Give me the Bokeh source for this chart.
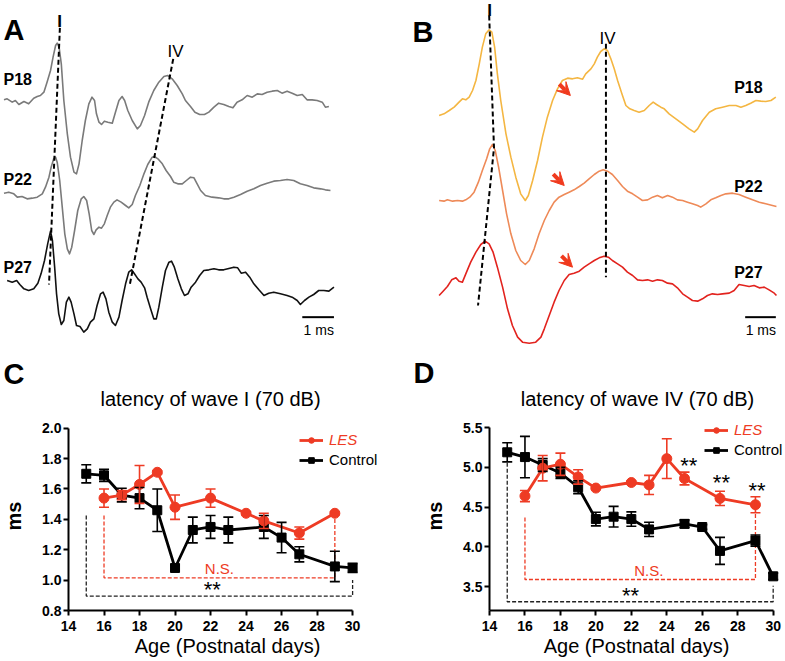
import numpy as np
from bokeh.plotting import figure
from bokeh.layouts import column, row
from bokeh.models import (ColumnDataSource, Whisker, TeeHead, Legend, LegendItem,
                          FixedTicker, PrintfTickFormatter, Arrow, VeeHead)
from bokeh.core.properties import value
from bokeh.embed import file_html
from bokeh.resources import INLINE

FONT = "Liberation Sans"

# ---------------- Panel A: ABR traces, control (time ms, amplitude a.u.) ----------------
a18_t = [0.11,0.21,0.37,0.47,0.58,0.74,0.89,1.05,1.16,1.26,1.37,1.47,1.58,1.66,1.74,1.79,1.85,1.92,2.00,2.11,2.21,2.32,2.40,2.48,2.58,2.68,2.79,2.89,2.97,3.03,3.11,3.19,3.28,3.39,3.53,3.63,3.74,3.84,3.92,4.02,4.16,4.32,4.42,4.55,4.68,4.84,5.00,5.16,5.28,5.42,5.58,5.74,5.84,6.00,6.14,6.29,6.44,6.58,6.74,6.89,7.05,7.21,7.34,7.47,7.63,7.79,7.95,8.11,8.26,8.42,8.58,8.74,8.89,9.05,9.21,9.37,9.53,9.68,9.84,10.00,10.16,10.26,10.37]
a18_v = [0.02,0.05,-0.05,0.00,-0.12,-0.03,-0.10,0.07,0.12,0.15,0.25,0.55,0.90,1.30,1.65,1.72,1.60,1.10,0.00,-1.00,-1.70,-2.15,-2.20,-1.90,-1.20,-0.60,-0.10,0.10,0.00,-0.40,-0.65,-0.72,-0.62,-0.65,-0.68,-0.35,0.00,0.12,0.00,-0.30,-0.60,-0.85,-0.75,-0.45,-0.05,0.30,0.55,0.72,0.75,0.65,0.45,0.20,0.00,-0.18,-0.35,-0.42,-0.42,-0.35,-0.20,-0.08,-0.12,-0.18,-0.22,-0.05,0.02,0.15,0.10,0.20,0.18,0.25,0.28,0.30,0.22,0.28,0.22,0.15,0.18,0.02,0.02,0.00,-0.05,-0.20,-0.18]
a22_t = [0.11,0.26,0.42,0.53,0.68,0.84,1.00,1.16,1.32,1.42,1.53,1.60,1.68,1.74,1.79,1.87,1.95,2.03,2.11,2.18,2.25,2.34,2.44,2.55,2.63,2.72,2.80,2.88,2.95,3.02,3.11,3.19,3.28,3.37,3.47,3.58,3.68,3.81,3.95,4.05,4.16,4.26,4.40,4.53,4.65,4.79,4.86,4.97,5.11,5.23,5.37,5.47,5.60,5.74,5.87,6.00,6.11,6.21,6.32,6.47,6.68,6.89,7.05,7.21,7.37,7.58,7.79,8.00,8.21,8.42,8.63,8.84,9.05,9.26,9.47,9.68,9.89,10.11,10.26,10.42]
a22_v = [0.07,0.10,0.05,-0.05,-0.03,-0.10,-0.08,-0.05,0.05,0.25,0.55,0.85,1.10,1.15,1.00,0.45,-0.35,-1.15,-1.60,-1.75,-1.55,-1.05,-0.45,-0.10,-0.03,-0.15,-0.55,-1.05,-1.17,-1.03,-0.95,-0.98,-0.85,-0.60,-0.35,-0.20,-0.13,-0.20,-0.30,-0.37,-0.27,0.00,0.30,0.65,0.93,1.15,1.17,1.10,0.95,0.75,0.57,0.40,0.35,0.35,0.45,0.55,0.53,0.35,0.15,0.00,-0.05,-0.07,-0.10,-0.10,-0.05,0.03,0.13,0.20,0.30,0.37,0.43,0.45,0.48,0.45,0.35,0.30,0.23,0.20,0.17,0.15]
a27_t = [0.21,0.37,0.51,0.61,0.74,0.89,1.05,1.18,1.28,1.39,1.49,1.58,1.64,1.71,1.77,1.84,1.92,2.00,2.08,2.16,2.23,2.32,2.40,2.51,2.63,2.74,2.84,2.95,3.05,3.16,3.24,3.33,3.42,3.53,3.63,3.74,3.84,3.95,4.05,4.14,4.23,4.34,4.44,4.55,4.63,4.74,4.84,4.92,5.00,5.11,5.21,5.32,5.40,5.49,5.60,5.71,5.81,5.92,6.02,6.16,6.29,6.42,6.58,6.74,6.89,7.05,7.21,7.37,7.49,7.60,7.74,7.87,8.00,8.16,8.32,8.47,8.63,8.84,9.05,9.21,9.37,9.47,9.60,9.74,9.89,10.05,10.21,10.37,10.53]
a27_v = [0.00,-0.05,0.00,-0.12,-0.25,-0.30,-0.25,-0.08,0.20,0.60,1.10,1.48,1.20,0.40,-0.40,-1.00,-1.32,-1.20,-0.65,-0.50,-0.65,-1.00,-1.35,-1.38,-1.55,-1.45,-1.25,-1.15,-0.75,-0.40,-0.35,-0.55,-0.95,-1.25,-1.35,-1.10,-0.60,-0.10,0.25,0.32,0.20,0.05,-0.05,-0.22,-0.50,-0.85,-1.15,-1.15,-0.80,-0.20,0.30,0.55,0.58,0.40,0.05,-0.25,-0.45,-0.40,-0.20,-0.05,0.15,0.30,0.32,0.35,0.32,0.32,0.36,0.40,0.38,0.22,0.25,0.10,-0.10,-0.28,-0.45,-0.38,-0.35,-0.40,-0.45,-0.50,-0.60,-0.72,-0.60,-0.50,-0.42,-0.30,-0.30,-0.32,-0.20]
offsets_A = [-3.00, -5.85, -8.40]
ages_A = ["P18", "P22", "P27"]
waveI_lat_A = [1.85, 1.70, 1.60]
waveIV_lat_A = [5.35, 4.85, 4.17]

# ---------------- Panel B: ABR traces, LES ----------------
b18_t = [1.52,1.68,1.85,2.01,2.17,2.28,2.39,2.50,2.61,2.72,2.83,2.93,3.04,3.15,3.24,3.33,3.42,3.53,3.70,3.86,4.02,4.18,4.33,4.43,4.57,4.73,4.89,5.05,5.22,5.38,5.54,5.71,5.87,6.03,6.20,6.30,6.47,6.58,6.68,6.79,6.90,7.01,7.12,7.23,7.34,7.48,7.61,7.74,7.88,8.04,8.21,8.37,8.50,8.61,8.75,8.86,9.02,9.24,9.46,9.67,9.84,9.95,10.11,10.33,10.54,10.76,10.98,11.20,11.36,11.52,11.68,11.85,12.01,12.17,12.34,12.50]
b18_v = [0.00,0.05,0.15,0.25,0.40,0.50,0.47,0.55,0.75,1.05,1.55,2.05,2.45,2.57,2.50,2.05,1.25,0.45,-0.55,-1.25,-1.85,-2.35,-2.55,-2.40,-1.95,-1.35,-0.65,-0.05,0.45,0.80,1.05,1.12,1.10,1.13,1.09,1.25,1.40,1.55,1.75,1.92,2.00,1.95,1.70,1.40,1.05,0.65,0.30,0.20,0.15,0.10,0.15,0.30,0.40,0.33,0.25,0.20,0.05,-0.10,-0.25,-0.40,-0.50,-0.40,-0.15,0.10,0.20,0.25,0.30,0.30,0.25,0.30,0.37,0.45,0.43,0.42,0.45,0.55]
b22_t = [1.52,1.68,1.79,1.96,2.12,2.28,2.39,2.52,2.66,2.80,2.93,3.07,3.17,3.26,3.35,3.46,3.59,3.72,3.86,4.02,4.18,4.33,4.46,4.62,4.78,4.95,5.11,5.27,5.43,5.60,5.76,5.92,6.09,6.25,6.41,6.58,6.74,6.87,7.01,7.17,7.34,7.50,7.66,7.83,7.99,8.15,8.32,8.48,8.64,8.80,8.97,9.13,9.29,9.46,9.62,9.78,9.95,10.05,10.22,10.38,10.54,10.71,10.87,11.09,11.30,11.52,11.74,11.96,12.17,12.39,12.52]
b22_v = [0.00,-0.02,0.02,-0.02,0.00,-0.02,0.02,0.10,0.25,0.55,0.90,1.25,1.55,1.68,1.50,1.00,0.30,-0.40,-1.00,-1.50,-1.80,-1.92,-1.80,-1.45,-1.00,-0.60,-0.30,-0.05,0.10,0.18,0.25,0.32,0.42,0.52,0.65,0.78,0.88,0.92,0.88,0.78,0.60,0.42,0.28,0.20,0.10,0.00,0.02,0.10,0.15,0.08,0.15,0.10,0.02,0.00,-0.05,-0.10,-0.15,-0.20,-0.10,0.02,0.08,0.15,0.20,0.22,0.18,0.10,0.02,-0.05,-0.10,-0.15,-0.18]
b27_t = [1.52,1.65,1.79,1.93,2.07,2.17,2.28,2.39,2.55,2.72,2.88,3.02,3.15,3.28,3.42,3.59,3.75,3.91,4.08,4.24,4.46,4.67,4.84,4.95,5.11,5.27,5.43,5.60,5.76,5.92,6.09,6.25,6.41,6.58,6.74,6.90,7.04,7.17,7.34,7.50,7.66,7.83,7.99,8.15,8.32,8.48,8.64,8.80,8.97,9.13,9.29,9.46,9.62,9.78,9.95,10.11,10.27,10.43,10.60,10.76,10.98,11.14,11.30,11.47,11.63,11.79,11.96,12.12,12.28,12.45,12.52]
b27_v = [0.00,0.13,0.27,0.47,0.53,0.43,0.40,0.65,1.00,1.30,1.53,1.63,1.55,1.30,0.85,0.25,-0.40,-0.90,-1.25,-1.40,-1.43,-1.40,-1.25,-1.00,-0.60,-0.20,0.15,0.45,0.63,0.67,0.73,0.85,0.95,1.05,1.13,1.18,1.15,1.05,0.95,0.85,0.70,0.60,0.47,0.45,0.47,0.43,0.47,0.45,0.37,0.35,0.23,0.05,-0.05,-0.15,-0.17,-0.10,0.00,0.05,0.03,0.05,0.07,0.15,0.33,0.30,0.27,0.30,0.23,0.25,0.17,0.07,0.00]
offsets_B = [-3.45, -6.00, -8.85]
ages_B = ["P18", "P22", "P27"]
waveI_lat_B = [3.17, 3.31, 3.00]
waveIV_lat_B = [6.96, 6.96, 6.96]
shoulder_lat_B = [5.80, 5.60, 5.87]      # red arrows (tip latency)
shoulder_lvl_B = [0.60, 0.45, 0.85]      # tip height above each trace's baseline

# ---------------- Panel C: latency of wave I ----------------
title_C = "latency of wave I (70 dB)"
les_age_C = [16, 17, 18, 19, 20, 22, 24, 25, 27, 29]
les_C = [1.54, 1.56, 1.63, 1.71, 1.48, 1.54, 1.44, 1.39, 1.31, 1.44]
les_C_err = [0.06, 0.03, 0.125, 0.01, 0.08, 0.06, 0.01, 0.05, 0.04, 0.01]
ctl_age_C = [15, 16, 17, 18, 19, 20, 21, 22, 23, 25, 26, 27, 29, 30]
ctl_C = [1.70, 1.69, 1.56, 1.54, 1.46, 1.08, 1.33, 1.35, 1.33, 1.35, 1.28, 1.17, 1.09, 1.08]
ctl_C_err = [0.06, 0.04, 0.045, 0.07, 0.14, 0.02, 0.085, 0.075, 0.085, 0.075, 0.10, 0.05, 0.10, 0.03]
ns_C = dict(x=[16, 16, 29, 29], y=[1.425, 1.015, 1.015, 1.41])
sig_C = dict(x=[15, 15, 30, 30], y=[1.425, 0.895, 0.895, 1.0])
ns_txt_C = (22.5, 1.075)
star_C = dict(x=[22.1], y=[0.965])

# ---------------- Panel D: latency of wave IV ----------------
title_D = "latency of wave IV (70 dB)"
les_age_D = [16, 17, 18, 19, 20, 22, 23, 24, 25, 27, 29]
les_D = [4.64, 4.99, 5.04, 4.88, 4.74, 4.81, 4.78, 5.11, 4.86, 4.61, 4.53]
les_D_err = [0.07, 0.16, 0.14, 0.09, 0.01, 0.02, 0.12, 0.25, 0.08, 0.09, 0.10]
ctl_age_D = [15, 16, 17, 18, 19, 20, 21, 22, 23, 25, 26, 27, 29, 30]
ctl_D = [5.19, 5.13, 5.03, 4.93, 4.75, 4.35, 4.38, 4.35, 4.22, 4.29, 4.25, 3.95, 4.08, 3.63]
ctl_D_err = [0.12, 0.26, 0.08, 0.07, 0.08, 0.085, 0.13, 0.09, 0.09, 0.05, 0.03, 0.17, 0.07, 0.04]
ns_D = dict(x=[16, 16, 29, 29], y=[4.37, 3.59, 3.59, 4.42])
sig_D = dict(x=[15, 15, 30, 30], y=[5.06, 3.31, 3.31, 3.51])
ns_txt_D = (22.98, 3.70)
star_D = dict(x=[21.95, 25.24, 27.08, 29.09], y=[3.44, 5.08, 4.855, 4.766])

RED = "#EE3B24"
GRAY = "#7a7a7a"
TRACE_COL_A = [GRAY, GRAY, "#111111"]
TRACE_COL_B = ["#F4B642", "#EE8A58", "#E2231E"]

TOP_H = 411
BOT_H = 661 - TOP_H


def trace_fig(width, xr):
    p = figure(width=width, height=TOP_H, x_range=xr, y_range=(-TOP_H * 0.03, 0),
               output_backend="svg", toolbar_location=None, min_border=0,
               x_axis_location=None, y_axis_location=None)
    p.grid.visible = False
    p.outline_line_color = None
    return p


def txt(p, x, y, s, size, style="normal", align="left", color="black"):
    p.text(x=x, y=y, text=s, text_font=value(FONT), text_font_size=size,
           text_font_style=style, text_align=align, text_baseline="middle", text_color=color)


# ---- Panel A (and the header row of panel C) ----
pA = trace_fig(392, (0, 392 * 3 / 95))
tA = [a18_t, a22_t, a27_t]
vA = [a18_v, a22_v, a27_v]
for t, v, off, c in zip(tA, vA, offsets_A, TRACE_COL_A):
    pA.line(t, np.array(v) + off, line_color=c, line_width=1.6, line_join="round")
lvl_I = [np.interp(l, t, v) + o for l, t, v, o in zip(waveI_lat_A, tA, vA, offsets_A)]
lvl_IV = [np.interp(l, t, v) + o for l, t, v, o in zip(waveIV_lat_A, tA, vA, offsets_A)]
for lat, lvl, top, bot in [(waveI_lat_A, lvl_I, -0.82, -8.52), (waveIV_lat_A, lvl_IV, -1.75, -8.55)]:
    a, b = np.polyfit(lvl, lat, 1)
    ys = np.array([top, bot])
    pA.line(a * ys + b, ys, line_color="black", line_width=2, line_dash="5 3")
txt(pA, [0.095] * 3, [-2.375, -5.37, -8.0], ages_A, "16px", "bold")
txt(pA, [0.095], [-0.87], ["A"], "29px", "bold")
txt(pA, [1.87], [-0.62], ["I"], "17px", "bold", "center")
txt(pA, [5.53], [-1.53], ["IV"], "17px", "normal", "center")
pA.line([9.53, 10.53], [-9.5, -9.5], line_color="black", line_width=2)
txt(pA, [10.05], [-9.87], ["1 ms"], "14px", "normal", "center")
txt(pA, [0.095], [-11.20], ["C"], "29px", "bold")
txt(pA, [6.632], [-11.94], [title_C], "20px", "normal", "center")

# ---- Panel B (and the header row of panel D) ----
pB = trace_fig(393, (0, 393 * 3 / 92))
tB = [b18_t, b22_t, b27_t]
vB = [b18_v, b22_v, b27_v]
for t, v, off, c in zip(tB, vB, offsets_B, TRACE_COL_B):
    pB.line(t, np.array(v) + off, line_color=c, line_width=1.6, line_join="round")
lv = [np.interp(l, t, v) + o for l, t, v, o in zip(waveI_lat_B, tB, vB, offsets_B)]
xs = list(waveI_lat_B)
top_y, bot_y = -0.45, -9.15
x_top = xs[0] + (xs[0] - xs[1]) / (lv[0] - lv[1]) * (top_y - lv[0])
x_bot = xs[2] + (xs[2] - xs[1]) / (lv[2] - lv[1]) * (bot_y - lv[2])
pB.line([x_top] + xs + [x_bot], [top_y] + lv + [bot_y], line_color="black", line_width=2, line_dash="5 3")
iv_x = float(np.mean(waveIV_lat_B))
pB.line([iv_x, iv_x], [-1.30, -8.30], line_color="black", line_width=2, line_dash="5 3")
tips_y = [l + o for l, o in zip(shoulder_lvl_B, offsets_B)]
arr_src = ColumnDataSource(dict(x1=shoulder_lat_B, y1=tips_y,
                                x0=[x - 0.36 for x in shoulder_lat_B], y0=[y + 0.34 for y in tips_y]))
pB.add_layout(Arrow(source=arr_src, x_start="x0", y_start="y0", x_end="x1", y_end="y1",
                    line_color="#F03A1E", line_width=4,
                    end=VeeHead(size=13, fill_color="#F03A1E", line_color="#F03A1E", line_width=1)))
txt(pB, [11.14] * 3, [-2.62, -5.57, -8.17], ages_B, "16px", "bold")
txt(pB, [0.65], [-0.95], ["B"], "29px", "bold")
txt(pB, [3.17], [-0.30], ["I"], "17px", "bold", "center")
txt(pB, [7.01], [-1.15], ["IV"], "17px", "normal", "center")
pB.line([11.50, 12.50], [-9.5, -9.5], line_color="black", line_width=2)
txt(pB, [12.01], [-9.87], ["1 ms"], "14px", "normal", "center")
txt(pB, [0.685], [-11.17], ["D"], "29px", "bold")
txt(pB, [7.989], [-11.94], [title_D], "20px", "normal", "center")


# ---- Panels C, D ----
def latency_fig(width, left, right, xend, yr, ybounds, yticks,
                les_age, les, les_err, ctl_age, ctl, ctl_err, ns, sig, ns_txt, stars,
                leg_x, leg_y):
    p = figure(width=width, height=BOT_H, x_range=(14, xend), y_range=yr,
               output_backend="svg", toolbar_location=None,
               min_border_left=left, min_border_right=right, min_border_top=10, min_border_bottom=51)
    p.grid.visible = False
    p.outline_line_color = None
    p.xaxis.ticker = FixedTicker(ticks=list(range(14, 31, 2)))
    p.xaxis.bounds = (14, 30)
    p.yaxis.ticker = FixedTicker(ticks=yticks)
    p.yaxis.bounds = ybounds
    p.yaxis.formatter = PrintfTickFormatter(format="%.1f")
    for ax in (p.xaxis[0], p.yaxis[0]):
        ax.axis_line_width = 2
        ax.major_tick_line_width = 2
        ax.major_tick_out = 5
        ax.major_tick_in = 0
        ax.minor_tick_line_color = None
        ax.major_label_text_font = FONT
        ax.major_label_text_font_style = "bold"
        ax.major_label_text_font_size = "14px"
        ax.major_label_text_color = "black"
        ax.axis_label_text_font = FONT
        ax.axis_label_text_color = "black"
    p.xaxis.major_label_standoff = 5
    p.yaxis.major_label_standoff = 2
    p.xaxis.axis_label = "Age (Postnatal days)"
    p.xaxis.axis_label_text_font_style = "normal"
    p.xaxis.axis_label_text_font_size = "20px"
    p.xaxis.axis_label_standoff = 1
    p.yaxis.axis_label = "ms"
    p.yaxis.axis_label_text_font_style = "bold"
    p.yaxis.axis_label_text_font_size = "20px"
    p.yaxis.axis_label_standoff = 14

    p.line(sig["x"], sig["y"], line_color="#222222", line_width=1.3, line_dash="4 2")
    p.line(ns["x"], ns["y"], line_color=RED, line_width=1.3, line_dash="4 2")

    def series(age, val, err, color, marker, size):
        src = ColumnDataSource(dict(x=age, y=val, lo=[v - e for v, e in zip(val, err)],
                                    up=[v + e for v, e in zip(val, err)]))
        ln = p.line("x", "y", source=src, line_color=color, line_width=2.8)
        w = Whisker(source=src, base="x", upper="up", lower="lo", line_color=color, line_width=1.6,
                    upper_head=TeeHead(size=10, line_color=color, line_width=1.6),
                    lower_head=TeeHead(size=10, line_color=color, line_width=1.6), level="glyph")
        p.add_layout(w)
        sc = p.scatter("x", "y", source=src, marker=marker, size=size, fill_color=color,
                       line_color=color)
        return [ln, sc]

    r_ctl = series(ctl_age, ctl, ctl_err, "black", "square", 9)
    r_les = series(les_age, les, les_err, RED, "circle", 10)

    txt(p, [ns_txt[0]], [ns_txt[1]], ["N.S."], "15px", "normal", "center", RED)
    p.text(x=stars["x"], y=stars["y"], text=["**"] * len(stars["x"]), text_font=value(FONT),
           text_font_size="22px", text_align="center", text_baseline="middle",
           text_color="black", y_offset=4)

    for label, rs, color, style, ly in [("LES", r_les, RED, "italic", leg_y[0]),
                                          ("Control", r_ctl, "black", "normal", leg_y[1])]:
        lg = Legend(items=[LegendItem(label=label, renderers=rs)], location=(leg_x, ly),
                    label_text_font=FONT, label_text_font_size="15px", label_text_color=color,
                    label_text_font_style=style, glyph_width=24, glyph_height=14, label_height=14,
                    label_standoff=6, padding=0, margin=0, spacing=0, border_line_color=None,
                    background_fill_alpha=0)
        p.add_layout(lg)
    return p


# both frames span 189 px vertically (top at y=421, bottom at y=610)
pC = latency_fig(392, 67, 6, 14 + 319 / 17.8125, (0.8, 0.8 + 189 / 151.9), (0.8, 2.0),
                 [0.8, 1.0, 1.2, 1.4, 1.6, 1.8, 2.0],
                 les_age_C, les_C, les_C_err, ctl_age_C, ctl_C, ctl_C_err,
                 ns_C, sig_C, ns_txt_C, star_C, 231, (162, 142))
pD = latency_fig(393, 97, 2, 14 + 294 / 17.73, (3.2, 3.2 + 189 / 79.5), (3.2, 5.5),
                 [3.5, 4.0, 4.5, 5.0, 5.5],
                 les_age_D, les_D, les_D_err, ctl_age_D, ctl_D, ctl_D_err,
                 ns_D, sig_D, ns_txt_D, star_D, 215, (172, 152))

layout = column(row(pA, pB), row(pC, pD))
open("out.html", "w").write(file_html(layout, INLINE))
